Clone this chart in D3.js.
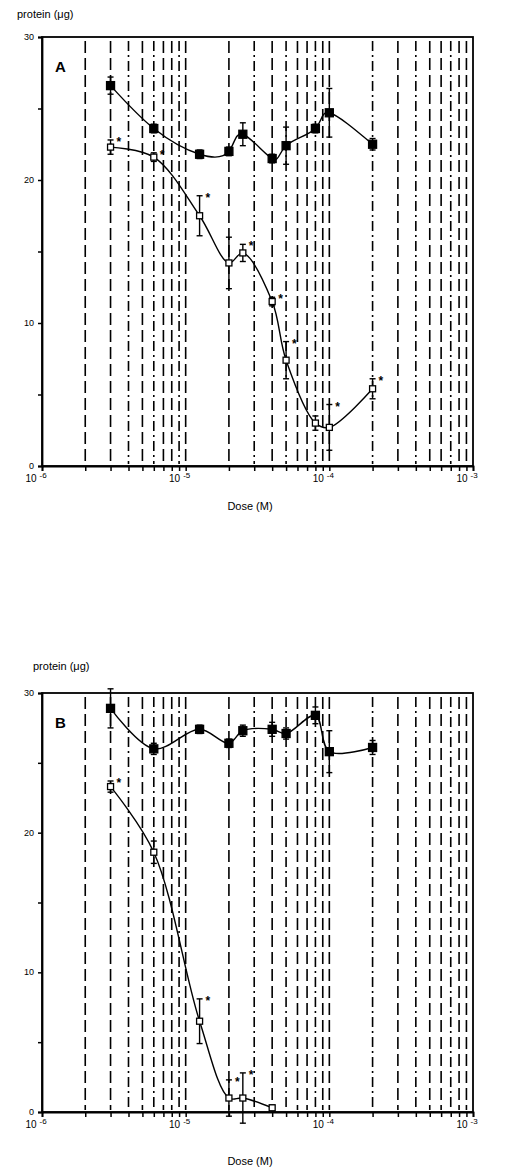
<!DOCTYPE html>
<html>
<head>
<meta charset="utf-8">
<script src="https://cdn.jsdelivr.net/npm/d3@7"></script>
<style>
  body { margin: 0; background: #fff; }
  svg { display: block; font-family: "Liberation Sans", Arial, sans-serif; }
</style>
</head>
<body>
<div id="chart"></div>
<script>
// doses (M) used in both experiments
const dosesA = [3e-6, 6e-6, 1.25e-5, 2e-5, 2.5e-5, 4e-5, 5e-5, 8e-5, 1e-4, 2e-4];
const controlA = [26.6, 23.6, 21.8, 22.0, 23.2, 21.5, 22.4, 23.6, 24.7, 22.5];
const controlAErr = [0.6, 0.3, 0.3, 0.3, 0.8, 0.3, 1.3, 0.3, 1.7, 0.4];
const treatedA = [22.3, 21.6, 17.5, 14.2, 14.9, 11.5, 7.4, 3.0, 2.7, 5.4];
const treatedAErr = [0.5, 0.3, 1.4, 1.8, 0.6, 0.3, 1.3, 0.5, 1.6, 0.7];
const starsA = [1, 1, 1, 0, 1, 1, 1, 0, 1, 1];

const dosesB = [3e-6, 6e-6, 1.25e-5, 2e-5, 2.5e-5, 4e-5, 5e-5, 8e-5, 1e-4, 2e-4];
const controlB = [28.9, 26.0, 27.4, 26.4, 27.3, 27.4, 27.1, 28.4, 25.8, 26.1];
const controlBErr = [1.4, 0.4, 0.3, 0.3, 0.4, 0.5, 0.4, 0.6, 1.5, 0.5];
const dosesBTreated = [3e-6, 6e-6, 1.25e-5, 2e-5, 2.5e-5, 4e-5];
const treatedB = [23.3, 18.6, 6.5, 1.0, 1.0, 0.3];
const treatedBErr = [0.4, 0.8, 1.6, 1.3, 1.8, 0.2];
const starsB = [1, 0, 1, 1, 1, 0];

const yTicks = [0, 10, 20, 30];
const decades = [-6, -5, -4, -3];
const yTitle = 'protein (μg)';
const xTitle = 'Dose (M)';

const W = 508, H = 1173;
const svg = d3.select('#chart').append('svg').attr('width', W).attr('height', H);
svg.append('rect').attr('width', W).attr('height', H).attr('fill', '#fff');

// every minor tick between 1e-6 and 1e-3
const minorTicks = [];
decades.slice(0, -1).forEach(e => {
  for (let m = 1; m < 10; m++) minorTicks.push(m * Math.pow(10, e));
});
minorTicks.push(1e-3);

const dashes = ['12,5', '12,5', '10,4,2,4', '12,5', '10,4,2,4', '12,5', '12,5', '10,4,2,4'];

function drawPanel({ top, bottom, label, titleX, titleY, xLabelY, series }) {
  const x = d3.scaleLog().domain([1e-6, 1e-3]).range([42, 473]);
  const y = d3.scaleLinear().domain([0, 30]).range([bottom, top]);
  const g = svg.append('g');

  // vertical dashed grid at each minor tick
  minorTicks.filter(v => v > 1.01e-6 && v < 0.99e-3).forEach((v, i) => {
    g.append('line')
      .attr('x1', x(v)).attr('x2', x(v))
      .attr('y1', top + 4).attr('y2', bottom - 2)
      .attr('stroke', '#000')
      .attr('stroke-width', 1.6)
      .attr('stroke-dasharray', dashes[i % dashes.length]);
  });

  // frame
  g.append('rect')
    .attr('x', 42).attr('y', top)
    .attr('width', 431).attr('height', bottom - top)
    .attr('fill', 'none').attr('stroke', '#000').attr('stroke-width', 1.8);

  // x axis
  g.append('g')
    .attr('transform', `translate(0,${bottom})`)
    .call(d3.axisBottom(x).tickValues(minorTicks).tickSize(5).tickFormat(() => ''))
    .call(a => a.select('.domain').attr('stroke-width', 1.8))
    .call(a => a.selectAll('.tick line').attr('stroke-width', 1.5));

  decades.forEach(e => {
    const t = g.append('text')
      .attr('x', x(Math.pow(10, e)) - 6)
      .attr('y', bottom + 16)
      .attr('font-size', 10)
      .attr('text-anchor', 'middle');
    t.append('tspan').text('10');
    t.append('tspan').attr('dx', 3).attr('dy', -4).attr('font-size', 8).text(e);
  });

  // y axis
  g.append('g')
    .attr('transform', 'translate(42,0)')
    .call(d3.axisLeft(y).tickValues([0, 5, 10, 15, 20, 25, 30]).tickSize(4).tickFormat(() => ''))
    .call(a => a.select('.domain').attr('stroke-width', 1.8))
    .call(a => a.selectAll('.tick line').attr('stroke-width', 1.5));

  yTicks.forEach(v => {
    g.append('text')
      .attr('x', 34).attr('y', y(v) + 3)
      .attr('text-anchor', 'end')
      .attr('font-size', 9)
      .text(v);
  });

  g.append('text')
    .attr('x', titleX).attr('y', titleY)
    .attr('font-size', 11)
    .text(yTitle);

  g.append('text')
    .attr('x', 250).attr('y', xLabelY)
    .attr('text-anchor', 'middle')
    .attr('font-size', 11)
    .text(xTitle);

  g.append('text')
    .attr('x', 55).attr('y', top + 35)
    .attr('font-size', 15).attr('font-weight', 'bold')
    .text(label);

  series.forEach(({ doses, values, errs, filled, stars, curve }) => {
    const pts = doses.map((dose, i) => ({ dose, value: values[i], err: errs[i], star: stars ? stars[i] : 0 }));

    const line = d3.line()
      .x(d => x(d.dose))
      .y(d => y(d.value))
      .curve(curve || d3.curveCatmullRom.alpha(0.5));

    g.append('path')
      .datum(pts)
      .attr('fill', 'none')
      .attr('stroke', '#000')
      .attr('stroke-width', 1.4)
      .attr('d', line);

    // error bars
    pts.forEach(p => {
      const cx = x(p.dose);
      const y0 = y(p.value - p.err), y1 = y(p.value + p.err);
      g.append('line').attr('x1', cx).attr('x2', cx).attr('y1', y0).attr('y2', y1)
        .attr('stroke', '#000').attr('stroke-width', 1.4);
      [y0, y1].forEach(yy => g.append('line')
        .attr('x1', cx - 3).attr('x2', cx + 3).attr('y1', yy).attr('y2', yy)
        .attr('stroke', '#000').attr('stroke-width', 1.4));
    });

    const s = filled ? 8 : 6;
    g.selectAll(null)
      .data(pts)
      .join('rect')
      .attr('x', d => x(d.dose) - s / 2)
      .attr('y', d => y(d.value) - s / 2)
      .attr('width', s).attr('height', s)
      .attr('fill', filled ? '#000' : '#fff')
      .attr('stroke', '#000')
      .attr('stroke-width', 1.3);

    g.selectAll(null)
      .data(pts.filter(d => d.star))
      .join('text')
      .attr('x', d => x(d.dose) + 6)
      .attr('y', d => y(d.value + d.err) + 6)
      .attr('font-size', 12)
      .attr('font-weight', 'bold')
      .text('*');
  });
}

drawPanel({
  top: 37, bottom: 466, label: 'A', titleX: 17, titleY: 18, xLabelY: 510,
  series: [
    { doses: dosesA, values: controlA, errs: controlAErr, filled: true, curve: d3.curveNatural },
    { doses: dosesA, values: treatedA, errs: treatedAErr, filled: false, stars: starsA },
  ],
});

drawPanel({
  top: 693, bottom: 1112, label: 'B', titleX: 33, titleY: 670, xLabelY: 1165,
  series: [
    { doses: dosesB, values: controlB, errs: controlBErr, filled: true },
    { doses: dosesBTreated, values: treatedB, errs: treatedBErr, filled: false, stars: starsB },
  ],
});
</script>
</body>
</html>
